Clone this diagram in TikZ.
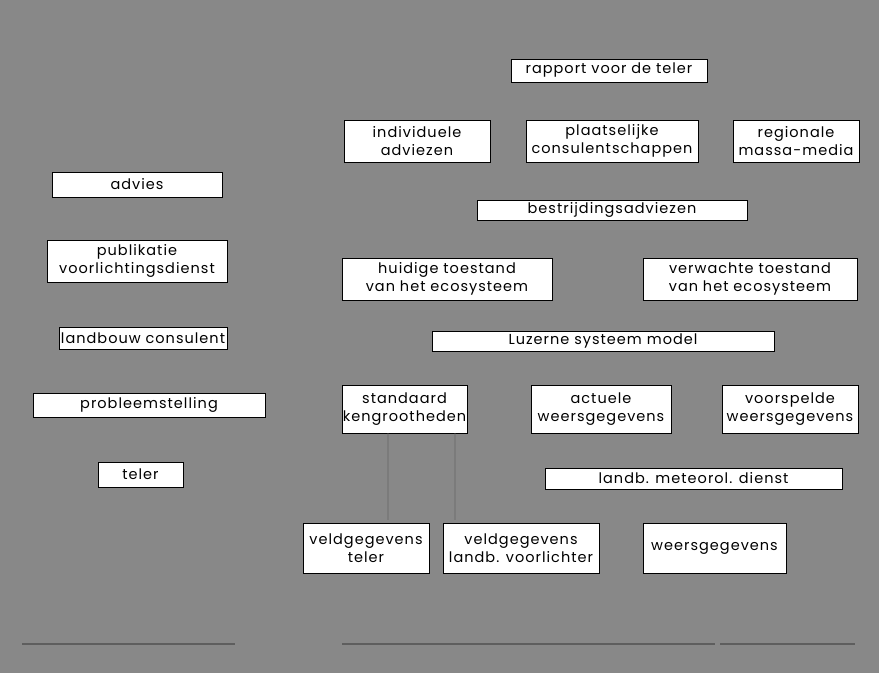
\documentclass[tikz,border=0pt]{standalone}
\usepackage{fontspec}
\setmainfont{Poppins}[LetterSpace=7]
\usetikzlibrary{positioning}
\definecolor{Scan}{HTML}{888888}
\definecolor{Trace}{HTML}{5E5E5E}
\tikzset{
 card/.style={draw=black,fill=white,line width=0.9pt,align=center,
   font=\fontsize{14.5}{18.5}\selectfont,inner sep=0pt},
 faint/.style={draw=Trace,line width=1.1pt}
}
\begin{document}
\begin{tikzpicture}[x=1pt,y=-1pt]
\fill[Scan] (0,0) rectangle (879,673);
\useasboundingbox (0,0) rectangle (879,673);
% left column
\node[card,minimum width=170pt,minimum height=25pt] (advies) at (137,184.5) {advies};
\node[card,minimum width=180pt,minimum height=42pt] (publ) at (137,261) {publikatie\\voorlichtingsdienst};
\node[card,minimum width=168pt,minimum height=22pt] (cons) at (143,338) {landbouw consulent};
\node[card,minimum width=232pt,minimum height=24pt] (probl) at (149,405) {probleemstelling};
\node[card,minimum width=85pt,minimum height=25pt] (teler) at (140.5,474.5) {teler};
% right column, top down
\node[card,minimum width=196pt,minimum height=23pt] (rapport) at (609,70.5) {rapport voor de teler};
\node[card,minimum width=146pt,minimum height=42pt] (indiv) at (417,141) {individuele\\adviezen};
\node[card,minimum width=172pt,minimum height=42pt] (plaats) at (612,141) {plaatselijke\\consulentschappen};
\node[card,minimum width=126pt,minimum height=42pt] (media) at (796,141) {regionale\\massa-media};
\node[card,minimum width=270pt,minimum height=20pt] (bestr) at (612,210) {bestrijdingsadviezen};
\node[card,minimum width=210pt,minimum height=42pt] (huidig) at (447,279) {huidige toestand\\van het ecosysteem};
\node[card,minimum width=214pt,minimum height=42pt] (verwacht) at (750,279) {verwachte toestand\\van het ecosysteem};
\node[card,minimum width=342pt,minimum height=20pt] (model) at (603,341) {Luzerne systeem model};
\node[card,minimum width=125pt,minimum height=48pt] (stand) at (404.5,409) {standaard\\kengrootheden};
\node[card,minimum width=140pt,minimum height=48pt] (actueel) at (601,409) {actuele\\weersgegevens};
\node[card,minimum width=136pt,minimum height=48pt] (voorsp) at (790,409) {voorspelde\\weersgegevens};
\node[card,minimum width=297pt,minimum height=21pt] (meteo) at (693.5,478.5) {landb. meteorol. dienst};
\node[card,minimum width=126pt,minimum height=50pt] (veldt) at (366,548) {veldgegevens\\teler};
\node[card,minimum width=156pt,minimum height=50pt] (veldv) at (521,548) {veldgegevens\\landb. voorlichter};
\node[card,minimum width=143pt,minimum height=50pt] (weer) at (714.5,548) {weersgegevens};
% faded traces
\coordinate (ta) at (388,520);
\coordinate (tb) at (455,520);
\draw[faint,draw opacity=.3] (stand.south -| ta) -- (ta);
\draw[faint,draw opacity=.3] (stand.south -| tb) -- (tb);
\foreach \a/\b in {22/235,342/715,720/855} \draw[faint] (\a,644) -- (\b,644);
\end{tikzpicture}
\end{document}
